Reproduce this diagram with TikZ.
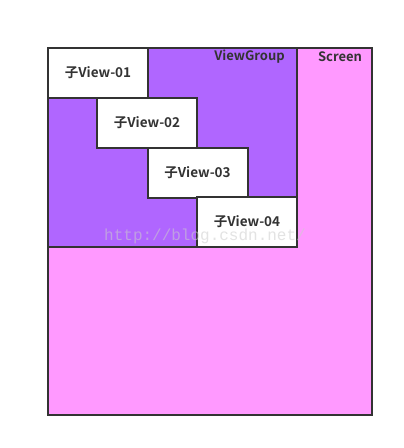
\documentclass[tikz,border=0pt]{standalone}
\usepackage{fontspec}
\setmainfont{Noto Sans CJK SC}[BoldFont={Noto Sans CJK SC Bold}]
\newfontfamily\wmfont{Liberation Mono}
\definecolor{bordc}{HTML}{333333}
\definecolor{vgcol}{HTML}{B066FF}
\definecolor{scrcol}{HTML}{FF99FF}
\begin{document}
\begin{tikzpicture}[x=1pt,y=-1pt,
  box/.style={draw=bordc,line width=2pt},
  lbl/.style={font=\fontsize{13}{15}\selectfont\bfseries,text=bordc,inner sep=0pt},
  child/.style={box,fill=white,minimum width=100pt,minimum height=50pt,font=\fontsize{13.5}{15}\selectfont\bfseries,text=bordc,inner sep=0pt}]
\useasboundingbox (0,0) rectangle (404,448);
\fill[white] (0,0) rectangle (404,448);
\draw[box,fill=scrcol] (48,48) rectangle (372,415);
\draw[box,fill=vgcol] (48,48) rectangle (297,247);
\node[child] (v1) at (98,73) {子View-01};
\node[child] (v2) at (147,123) {子View-02};
\node[child] (v3) at (197.5,173) {子View-03};
\node[child] (v4) at (247,222) {子View-04};
\node[lbl] (vg) at (249.5,57) {ViewGroup};
\node[lbl] (scr) at (340,57) {Screen};
\node[font=\wmfont\fontsize{16}{18}\selectfont,text=gray!40,opacity=0.55,anchor=base west,inner sep=0pt] (wm) at (104,240) {http://blog.csdn.net/};
\end{tikzpicture}
\end{document}
